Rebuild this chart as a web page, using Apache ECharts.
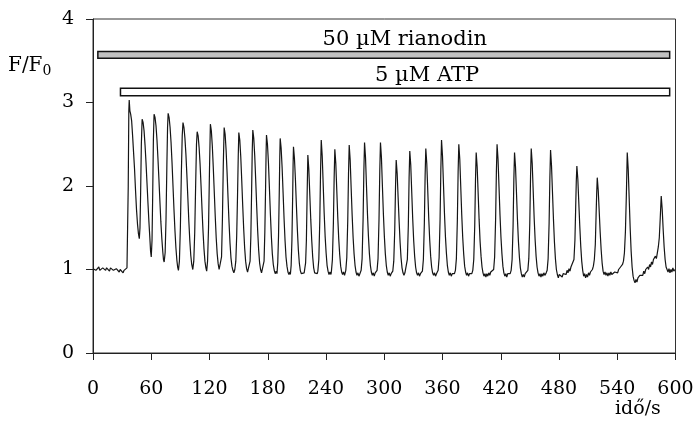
<!DOCTYPE html>
<html>
<head>
<meta charset="utf-8">
<script src="https://cdn.jsdelivr.net/npm/echarts@6/dist/echarts.min.js"></script>
<style>
html,body{margin:0;padding:0;background:#fff;}
#chart{width:698px;height:421px;}
</style>
</head>
<body>
<div id="chart"></div>
<script>
// ---- data ----
const xTicks = [0, 60, 120, 180, 240, 300, 360, 420, 480, 540, 600];
const yTicks = [0, 1, 2, 3, 4];

const treatments = ['50 µM rianodin', '5 µM ATP'];
const treatStart = [5, 28.3];
const treatEnd = [594, 594];
const treatLow = [3.53, 3.08];
const treatHigh = [3.61, 3.17];

// F/F0 trace [time s, F/F0]
const trace = [
[0,1.01],[1,1.00],[2,1.02],[3,0.99],[4,1.01],[5,1.00],[6,1.03],[7,0.99],[8,1.01],[9,0.98],[10,1.02],[11,1.00],[12,1.03],[13,0.99],[14,1.02],[15,1.00],[16,1.01],[17,0.98],[18,1.02],[19,1.00],[20,1.03],[21,0.99],[22,1.00],[23,0.97],[24,1.01],[25,0.99],[26,1.02],[27,0.97],[28,1.00],[29,0.98],[30,1.01],[31,0.96],[32,0.99],[33,0.97],[34,1.00],[35,1.02],
[35.6,1.04],[36.3,2.0],[36.9,2.9],[37.3,3.03],[38,2.9],[38.8,2.86],[39.8,2.78],[40.8,2.6],[41.8,2.4],[42.8,2.2],[43.8,1.95],[44.8,1.72],[45.8,1.55],[46.8,1.43],[47.7,1.37],
[48.4,1.5],[49.1,1.95],[49.8,2.5],[50.6,2.80],
[51.6,2.76],[52.6,2.66],[53.6,2.49],[54.6,2.28],[55.6,2.04],[56.6,1.8],[57.6,1.57],[58.6,1.37],[59.3,1.22],[60,1.15],[60.8,1.35],[61.5,1.9],[62.2,2.55],[62.9,2.86],
[63.9,2.82],[64.9,2.72],[65.9,2.55],[66.9,2.33],[67.9,2.08],[68.9,1.82],[69.9,1.57],[70.9,1.37],[71.9,1.21],[72.6,1.12],[73.3,1.09],[74.3,1.2],[75.2,1.6],[76.1,2.25],[76.8,2.7],[77.4,2.87],
[78.4,2.82],[79.4,2.7],[80.4,2.52],[81.4,2.28],[82.4,2.0],[83.4,1.72],[84.4,1.47],[85.4,1.26],[86.4,1.11],[87.2,1.03],[88,0.99],[89,1.1],[90,1.5],[91,2.15],[91.9,2.6],[92.7,2.76],
[93.7,2.7],[94.7,2.57],[95.7,2.38],[96.7,2.13],[97.7,1.86],[98.7,1.58],[99.7,1.35],[100.7,1.17],[101.7,1.06],[102.8,1.0],[103.8,1.1],[104.8,1.45],[105.8,2.05],[106.6,2.5],[107.3,2.65],
[108.3,2.6],[109.3,2.46],[110.3,2.26],[111.3,2.0],[112.3,1.72],[113.3,1.46],[114.3,1.25],[115.3,1.1],[116.3,1.02],[117.1,0.98],[118,1.1],[119,1.5],[120,2.2],[120.9,2.74],
[121.9,2.66],[122.9,2.48],[123.9,2.22],[124.9,1.93],[125.9,1.64],[126.9,1.38],[127.9,1.19],[128.9,1.07],[129.9,1.0],[130.9,0.98],[131.6,1.0],[132.4,1.15],[133.3,1.6],[134.2,2.25],[135.1,2.70],
[136.1,2.62],[137.1,2.43],[138.1,2.16],[139.1,1.86],[140.1,1.57],[141.1,1.32],[142.1,1.14],[143.1,1.04],[144.1,0.99],[145.1,0.96],[146.1,1.0],[147.1,1.1],[148,1.4],[148.9,1.9],[149.6,2.35],[150.2,2.64],
[151.2,2.55],[152.2,2.35],[153.2,2.07],[154.2,1.77],[155.2,1.49],[156.2,1.26],[157.2,1.1],[158.2,1.01],[159.2,0.97],[160.2,0.95],[161,0.99],[161.8,1.1],[162.6,1.4],[163.4,1.95],[164,2.4],[164.6,2.67],
[165.6,2.57],[166.6,2.36],[167.6,2.07],[168.6,1.76],[169.6,1.47],[170.6,1.24],[171.6,1.08],[172.6,1.0],[173.6,0.96],[174.6,0.98],[175.4,0.97],[176.2,1.1],[177,1.45],[177.8,2.0],[178.3,2.4],[178.7,2.61],
[179.7,2.5],[180.7,2.28],[181.7,1.98],[182.7,1.67],[183.7,1.4],[184.7,1.19],[185.7,1.06],[186.7,0.99],[187.7,0.95],[188.7,0.98],[189.5,0.95],[190.3,1.08],[191.1,1.4],[191.9,1.95],[192.4,2.35],[192.8,2.57],
[193.8,2.45],[194.8,2.22],[195.8,1.92],[196.8,1.61],[197.8,1.35],[198.8,1.15],[199.8,1.04],[200.8,0.97],[201.8,0.94],[202.8,0.97],[203.3,0.94],[204.1,1.05],[204.9,1.35],[205.7,1.9],[206.1,2.25],[206.5,2.47],
[207.5,2.33],[208.5,2.08],[209.5,1.77],[210.5,1.48],[211.5,1.24],[212.5,1.08],[213.5,0.99],[214.5,0.95],[215.5,0.97],[216.5,0.93],[217.5,0.96],[218.2,0.97],[219,1.08],[219.8,1.35],[220.5,1.85],[221.3,2.37],
[222.3,2.2],[223.3,1.9],[224.3,1.6],[225.3,1.35],[226.3,1.15],[227.3,1.02],[228.3,0.96],[229.3,0.94],[230.3,0.97],[231,0.95],[231.6,0.98],[232.6,1.12],[233.6,1.58],[234.4,2.18],[235.1,2.55],
[236.1,2.36],[237.1,2.02],[238.1,1.68],[239.1,1.4],[240.1,1.2],[241.1,1.05],[242.1,0.98],[243.1,0.94],[244.1,0.97],[245.1,0.94],[245.6,0.98],[246.6,1.12],[247.6,1.55],[248.4,2.1],[249.1,2.44],
[250.1,2.27],[251.1,1.95],[252.1,1.63],[253.1,1.37],[254.1,1.18],[255.1,1.04],[256.1,0.97],[257.1,0.94],[258.1,0.97],[259.1,0.93],[259.4,0.95],[260.4,0.99],[261.4,1.14],[262.4,1.58],[263.2,2.15],[263.9,2.49],
[264.9,2.31],[265.9,1.98],[266.9,1.66],[267.9,1.39],[268.9,1.19],[269.9,1.05],[270.9,0.97],[271.9,0.93],[272.9,0.96],[273.9,0.92],[274.9,0.95],[275.2,0.94],[276.2,0.99],[277.2,1.13],[278.2,1.6],[279,2.18],[279.7,2.52],
[280.7,2.34],[281.7,2.0],[282.7,1.67],[283.7,1.4],[284.7,1.19],[285.7,1.05],[286.7,0.97],[287.7,0.93],[288.7,0.96],[289.7,0.92],[290.7,0.96],[291.6,0.94],[292.6,0.99],[293.6,1.13],[294.6,1.6],[295.4,2.18],[296.1,2.52],
[297.1,2.34],[298.1,2.0],[299.1,1.67],[300.1,1.4],[301.1,1.19],[302.1,1.05],[303.1,0.97],[304.1,0.93],[305.1,0.96],[306.1,0.92],[307.1,0.95],[307.8,0.94],[308.8,0.98],[309.8,1.1],[310.8,1.47],[311.6,1.98],[312.3,2.31],
[313.3,2.15],[314.3,1.86],[315.3,1.58],[316.3,1.33],[317.3,1.14],[318.3,1.02],[319.3,0.96],[320.3,0.93],[321.3,0.96],[321.8,0.94],[322.8,0.98],[323.8,1.12],[324.8,1.53],[325.6,2.1],[326.3,2.42],
[327.3,2.25],[328.3,1.93],[329.3,1.61],[330.3,1.35],[331.3,1.16],[332.3,1.03],[333.3,0.96],[334.3,0.93],[335.3,0.96],[336.3,0.92],[337.3,0.95],[338.3,0.93],[339.3,0.98],[340.3,1.12],[341.3,1.55],[342.1,2.12],[342.8,2.45],
[343.8,2.27],[344.8,1.95],[345.8,1.62],[346.8,1.36],[347.8,1.16],[348.8,1.03],[349.8,0.96],[350.8,0.93],[351.8,0.96],[352.8,0.92],[353.8,0.95],[354.5,0.94],[355.5,0.99],[356.5,1.14],[357.5,1.6],[358.3,2.2],[359,2.55],
[360,2.36],[361,2.02],[362,1.68],[363,1.4],[364,1.2],[365,1.05],[366,0.97],[367,0.93],[368,0.96],[369,0.92],[370,0.95],[371,0.93],[372.3,0.95],[373.3,0.99],[374.3,1.13],[375.3,1.59],[376.1,2.17],[376.8,2.50],
[377.8,2.32],[378.8,1.99],[379.8,1.66],[380.8,1.39],[381.8,1.19],[382.8,1.04],[383.8,0.97],[384.8,0.93],[385.8,0.96],[386.8,0.92],[387.8,0.95],[388.8,0.93],[389.8,0.96],[390.2,0.95],[391.2,0.99],[392.2,1.12],[393.2,1.52],[394,2.08],[394.7,2.40],
[395.7,2.23],[396.7,1.92],[397.7,1.6],[398.7,1.34],[399.7,1.16],[400.7,1.03],[401.7,0.96],[402.7,0.92],[403.7,0.95],[404.7,0.91],[405.7,0.95],[406.7,0.92],[407.7,0.96],[408.7,0.93],[409.7,0.97],[410.7,0.95],[411.7,0.98],[412.7,1.0],[413.7,1.15],[414.7,1.6],[415.5,2.17],[416.2,2.50],
[417.2,2.32],[418.2,1.99],[419.2,1.66],[420.2,1.39],[421.2,1.19],[422.2,1.04],[423.2,0.96],[424.2,0.92],[425.2,0.95],[426.2,0.91],[427.2,0.95],[428.2,0.93],[429.2,0.96],[429.7,0.95],[430.7,0.99],[431.7,1.12],[432.7,1.52],[433.5,2.08],[434.2,2.40],
[435.2,2.23],[436.2,1.92],[437.2,1.6],[438.2,1.34],[439.2,1.15],[440.2,1.02],[441.2,0.95],[442.2,0.91],[443.2,0.94],[444.2,0.91],[445.2,0.95],[446.2,0.93],[446.9,0.95],[447.9,0.99],[448.9,1.13],[449.9,1.55],[450.7,2.12],[451.4,2.45],
[452.4,2.27],[453.4,1.95],[454.4,1.62],[455.4,1.36],[456.4,1.16],[457.4,1.03],[458.4,0.96],[459.4,0.92],[460.4,0.95],[461.4,0.91],[462.4,0.95],[463.4,0.92],[464.4,0.96],[465.4,0.93],[466.8,0.96],[467.8,0.99],[468.8,1.13],[469.8,1.55],[470.6,2.1],[471.3,2.43],
[472.3,2.24],[473.3,1.92],[474.3,1.6],[475.3,1.33],[476.3,1.13],[477.3,1.0],[478.3,0.94],[479.3,0.90],[480.3,0.94],[481.3,0.92],[482.3,0.96],[483.3,0.91],[484.3,0.95],[485.3,0.93],[486.3,0.97],[487.3,0.94],[488.3,0.99],[489.3,0.96],[490.3,1.01],[491.3,0.98],[492.3,1.03],[493.3,1.02],[494.3,1.05],[495.4,1.12],[496.4,1.35],[497.2,1.75],[497.8,2.05],[498.4,2.24],
[499.4,2.08],[500.4,1.8],[501.4,1.52],[502.4,1.28],[503.4,1.1],[504.4,0.99],[505.4,0.92],[506.4,0.95],[507.4,0.90],[508.4,0.94],[509.4,0.91],[510.4,0.96],[511.4,0.93],[512.4,0.97],[513.4,0.95],[514.4,1.0],[515.4,1.04],[516.4,1.12],[517.4,1.3],[518.2,1.65],[518.8,1.9],[519.4,2.10],
[520.4,1.95],[521.4,1.7],[522.4,1.45],[523.4,1.24],[524.4,1.08],[525.4,0.98],[526.4,0.94],[527.4,0.97],[528.4,0.93],[529.4,0.96],[530.4,0.92],[531.4,0.96],[532.4,0.93],[533.4,0.97],[534.4,0.94],[535.4,0.96],[536.4,0.93],[537.4,0.97],[538.4,0.95],[539.4,0.98],[540.4,0.96],[541.4,1.0],[542.4,0.98],[543.4,1.03],[544.4,1.02],[545.4,1.06],[546.4,1.1],[547.4,1.2],[548.4,1.45],[549.4,1.9],[550.3,2.40],
[551.3,2.2],[552.3,1.85],[553.3,1.5],[554.3,1.22],[555.3,1.03],[556.3,0.92],[557.3,0.87],[558.3,0.84],[559.3,0.88],[560.3,0.85],[561.3,0.90],[562.3,0.88],[563.3,0.93],[564.3,0.91],[565.3,0.95],[566.3,0.93],[567.3,0.98],[568.3,0.95],[569.3,1.0],[570.3,0.98],[571.3,1.03],[572.3,1.0],[573.3,1.06],[574.3,1.03],[575.3,1.09],[576.3,1.06],[577.3,1.12],[578.3,1.10],[579.3,1.16],[580.3,1.13],[581.3,1.2],[582.3,1.27],[583.3,1.38],[584.3,1.62],[585.3,1.88],
[586.3,1.72],[587.3,1.48],[588.3,1.27],[589.3,1.12],[590.3,1.03],[591.3,1.0],[592.3,0.97],[593.3,1.01],[594.3,0.96],[595.3,1.0],[596.3,0.97],[597.3,1.02],[598.3,0.98],[599.3,1.0],[600,0.99]
];

// ---- chart ----
const FONT = '"DejaVu Serif", serif';
const labelShift = [21, 32];      // px shift of treatment label from bar centre
const barFill = ['#c0c0c0', '#ffffff'];

const chart = echarts.init(document.getElementById('chart'), null, {renderer: 'canvas'});
chart.setOption({
  animation: false,
  backgroundColor: '#fff',
  grid: {left: 93, right: 22.5, top: 19, bottom: 68, show: true, borderColor: '#333', borderWidth: 1},
  xAxis: {
    type: 'value', min: xTicks[0], max: xTicks[xTicks.length - 1], interval: 60,
    axisLine: {lineStyle: {color: '#222', width: 1}},
    axisTick: {length: 7, lineStyle: {color: '#222'}},
    axisLabel: {color: '#000', fontFamily: FONT, fontSize: 19, margin: 27},
    splitLine: {show: false}
  },
  yAxis: {
    type: 'value', min: yTicks[0], max: yTicks[yTicks.length - 1], interval: 1,
    axisLine: {show: true, lineStyle: {color: '#222', width: 1}},
    axisTick: {show: true, length: 7, lineStyle: {color: '#222'}},
    axisLabel: {color: '#000', fontFamily: FONT, fontSize: 19, margin: 19, padding: [3, 0, 0, 0]},
    splitLine: {show: false}
  },
  graphic: [
    {type: 'text', left: 8, top: 56, style: {
      text: 'F/F{s|0}', font: '20px ' + FONT, fill: '#000',
      rich: {s: {fontFamily: FONT, fontSize: 14, padding: [10, 0, 0, 0], fill: '#000'}}
    }},
    {type: 'text', left: 615, top: 400, style: {text: 'idő/s', font: '19px ' + FONT, fill: '#000'}}
  ],
  series: [
    {
      type: 'line', data: trace, showSymbol: false, symbol: 'none',
      lineStyle: {color: '#151515', width: 1.2}, z: 2
    },
    {
      type: 'custom', z: 3,
      data: treatments.map((n, i) => [treatStart[i], treatEnd[i], treatLow[i], treatHigh[i], i]),
      renderItem: function (params, api) {
        const i = api.value(4);
        const p0 = api.coord([api.value(0), api.value(3)]);
        const p1 = api.coord([api.value(1), api.value(2)]);
        const cx = (p0[0] + p1[0]) / 2;
        return {
          type: 'group',
          children: [
            {type: 'rect', shape: {x: p0[0], y: p0[1], width: p1[0] - p0[0], height: p1[1] - p0[1]},
              style: {fill: barFill[i], stroke: '#111', lineWidth: 1.5}},
            {type: 'text', style: {
              text: treatments[i], x: cx + labelShift[i], y: p0[1] - 2,
              textAlign: 'center', textVerticalAlign: 'bottom',
              font: '21px ' + FONT, fill: '#000'}}
          ]
        };
      }
    }
  ]
});
</script>
</body>
</html>
